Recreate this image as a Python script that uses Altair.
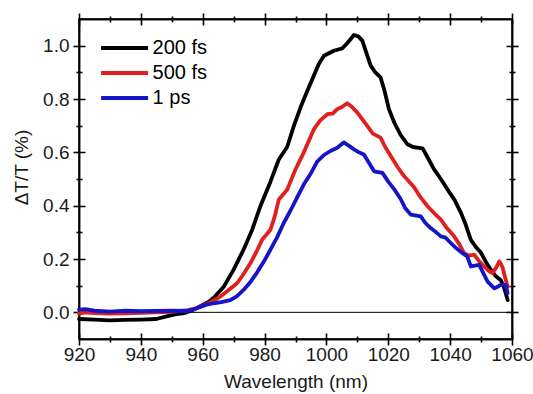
import altair as alt
import pandas as pd

# ---- data ----
wl_200 = [920, 925, 930, 935, 940, 945, 948, 951, 954, 957, 960, 962, 964, 966.8, 970, 973.2, 976, 978.7,
          981.9, 984.6, 987.3, 989.5, 991.6, 993.8, 995.9, 997.5, 999.2, 1002.4, 1005.1, 1006.8, 1008.9,
          1010.3, 1011.6, 1013, 1014.3, 1015.8, 1017.5, 1018.8, 1020.2, 1022, 1024, 1026.2, 1028, 1029.9,
          1031.1, 1033, 1034.8, 1037, 1039.2, 1041.5, 1043.5, 1045, 1046.7, 1048.3, 1049.9, 1051.5, 1053.2,
          1054.8, 1056.4, 1057.5, 1058.6]
dt_200 = [-0.025, -0.027, -0.030, -0.028, -0.027, -0.025, -0.016, -0.008, -0.003, 0.01, 0.028, 0.04, 0.06,
          0.096, 0.16, 0.235, 0.31, 0.40, 0.49, 0.573, 0.62, 0.70, 0.768, 0.83, 0.887, 0.93, 0.962, 0.981,
          0.99, 1.01, 1.04, 1.035, 1.019, 0.97, 0.925, 0.90, 0.881, 0.83, 0.762, 0.71, 0.665, 0.63, 0.62,
          0.617, 0.615, 0.575, 0.536, 0.50, 0.46, 0.42, 0.373, 0.33, 0.272, 0.245, 0.225, 0.19, 0.159,
          0.135, 0.12, 0.09, 0.046]

wl_500 = [920, 922, 925, 930, 935, 940, 945, 950, 955, 958, 961, 963, 965.7, 968, 971.1, 973, 975.4, 977.5,
          979.2, 981.9, 983.3, 984.6, 987.3, 990, 992.7, 995.9, 998, 1000.3, 1002, 1003.5, 1005, 1006.7,
          1008.3, 1010, 1013.2, 1015, 1017.5, 1019, 1020.8, 1023, 1025.1, 1028.3, 1030.5, 1032.7, 1035,
          1037, 1039, 1041.3, 1043, 1044.5, 1046, 1047.8, 1049.5, 1051, 1052.5, 1053.7, 1055, 1055.9,
          1056.5, 1057, 1057.8, 1058.6]
dt_500 = [-0.005, 0.0, -0.003, -0.005, -0.004, -0.002, 0.0, 0.002, 0.008, 0.015, 0.03, 0.04, 0.059, 0.08,
          0.109, 0.14, 0.184, 0.23, 0.272, 0.31, 0.36, 0.423, 0.46, 0.536, 0.60, 0.686, 0.72, 0.743, 0.745,
          0.762, 0.77, 0.784, 0.77, 0.749, 0.699, 0.67, 0.655, 0.62, 0.586, 0.545, 0.511, 0.47, 0.43,
          0.398, 0.37, 0.348, 0.315, 0.285, 0.255, 0.222, 0.213, 0.216, 0.19, 0.172, 0.155, 0.147, 0.17,
          0.191, 0.18, 0.166, 0.13, 0.096]

wl_1ps = [920, 922, 925, 930, 935, 940, 945, 950, 955, 958, 961, 964, 966, 968.9, 971, 973.2, 975.5, 977.6,
          980, 981.9, 984, 986.2, 988.3, 990.5, 992.7, 994.9, 997, 999.2, 1001.3, 1003.5, 1005.6, 1007.2,
          1008.9, 1010.5, 1012.1, 1013.8, 1015.4, 1018.1, 1020, 1022, 1024, 1025.5, 1027.3, 1030.5, 1032,
          1033.7, 1035.5, 1037, 1038.5, 1040.2, 1042, 1044, 1045.5, 1046.7, 1048, 1049.4, 1050.8, 1052.1,
          1054.3, 1055.5, 1056.4, 1058, 1058.6]
dt_1ps = [0.01, 0.012, 0.006, 0.003, 0.006, 0.004, 0.005, 0.006, 0.005, 0.015, 0.028, 0.035, 0.038, 0.046,
          0.06, 0.084, 0.115, 0.15, 0.195, 0.235, 0.28, 0.335, 0.38, 0.43, 0.48, 0.52, 0.565, 0.59, 0.605,
          0.617, 0.637, 0.625, 0.611, 0.60, 0.592, 0.56, 0.529, 0.523, 0.49, 0.46, 0.425, 0.39, 0.366,
          0.36, 0.335, 0.316, 0.30, 0.285, 0.28, 0.26, 0.24, 0.222, 0.21, 0.172, 0.175, 0.178, 0.145,
          0.115, 0.09, 0.097, 0.103, 0.103, 0.072]

series_names = ["200 fs", "500 fs", "1 ps"]
series_colors = ["#000000", "#e0201e", "#1414c8"]
x_major_ticks = [920, 940, 960, 980, 1000, 1020, 1040, 1060]
x_minor_ticks = [930, 950, 970, 990, 1010, 1030, 1050]
y_major_ticks = [0.0, 0.2, 0.4, 0.6, 0.8, 1.0]
y_minor_ticks = [0.1, 0.3, 0.5, 0.7, 0.9]

frames = []
for name, wl, dt in zip(series_names, [wl_200, wl_500, wl_1ps], [dt_200, dt_500, dt_1ps]):
    frames.append(pd.DataFrame({"wl": wl, "dt": dt, "series": name, "idx": range(len(wl))}))
df = pd.concat(frames, ignore_index=True)
zero_df = pd.DataFrame({"z": [0.0]})

W, H = 433, 320
FONT = "Liberation Sans"
MAJ, MIN = 6, 3
TICK_COLOR = "black"

x_scale = alt.Scale(domain=[920, 1060], nice=False, zero=False)
y_scale = alt.Scale(domain=[-0.1, 1.1], nice=False, zero=False)


def x_axis(orient, values, size, main=False):
    kw = dict(orient=orient, values=values, tickSize=size, labelFlush=False,
              ticks=True, tickColor=TICK_COLOR, tickWidth=1.6)
    if main:
        kw.update(format="d", title="Wavelength (nm)", labelPadding=0, titlePadding=8)
    else:
        kw.update(labels=False, title=None)
    if orient == "bottom":
        kw.update(grid=True, gridColor=TICK_COLOR, gridWidth=1.6,
                  gridDash=[size, H - 2 * size, size, 0])
    else:
        kw.update(grid=False)
    return alt.Axis(**kw)


def y_axis(orient, values, size, main=False):
    kw = dict(orient=orient, values=values, tickSize=size, labelFlush=False,
              ticks=True, tickColor=TICK_COLOR, tickWidth=1.6)
    if main:
        kw.update(format=".1f", title="ΔT/T (%)", labelPadding=4, titlePadding=11, titleY=148)
    else:
        kw.update(labels=False, title=None)
    if orient == "left":
        kw.update(grid=True, gridColor=TICK_COLOR, gridWidth=1.6,
                  gridDash=[size, W - 2 * size, size, 0])
    else:
        kw.update(grid=False)
    return alt.Axis(**kw)


lines = alt.Chart(df).mark_line(strokeWidth=3.8, strokeJoin="round", strokeCap="round").encode(
    x=alt.X("wl:Q", scale=x_scale, axis=x_axis("bottom", x_major_ticks, MAJ, main=True)),
    y=alt.Y("dt:Q", scale=y_scale, axis=y_axis("left", y_major_ticks, MAJ, main=True)),
    color=alt.Color(
        "series:N",
        scale=alt.Scale(domain=series_names, range=series_colors),
        legend=alt.Legend(
            title=None, orient="none", legendX=35.6, legendY=19,
            symbolType="M-3,0H3", symbolSize=245, symbolStrokeWidth=4,
            labelFont=FONT, labelFontSize=20, labelColor="black", labelOffset=18,
            rowPadding=5, padding=0,
        ),
    ),
    order="idx:Q",
)


def guide_layer(xo, xv, yo, yv, size):
    return alt.Chart(df).mark_line(opacity=0).encode(
        x=alt.X("wl:Q", scale=x_scale, axis=x_axis(xo, xv, size)),
        y=alt.Y("dt:Q", scale=y_scale, axis=y_axis(yo, yv, size)),
        detail="series:N",
    )


minor_bl = guide_layer("bottom", x_minor_ticks, "left", y_minor_ticks, MIN)
major_tr = guide_layer("top", x_major_ticks, "right", y_major_ticks, MAJ)
minor_tr = guide_layer("top", x_minor_ticks, "right", y_minor_ticks, MIN)

zero_rule = alt.Chart(zero_df).mark_rule(color="black", strokeWidth=1).encode(
    y=alt.Y("z:Q", scale=y_scale, axis=None)
)

chart = (
    alt.layer(zero_rule, lines, minor_bl, major_tr, minor_tr)
    .resolve_scale(x="shared", y="shared")
    .resolve_axis(x="independent", y="independent")
    .properties(
        width=W, height=H, autosize="none",
        padding={"left": 79, "top": 19, "right": 21, "bottom": 55},
        background="white",
    )
    .configure_view(stroke="black", strokeWidth=1.5)
    .configure_axis(
        domainColor="black", domainWidth=1.5,
        labelFont=FONT, labelFontSize=19, labelColor="#1a1a1a",
        titleFont=FONT, titleFontSize=19, titleFontWeight="normal", titleColor="#1a1a1a",
    )
)

chart.save("out.html", embed_options={"renderer": "svg", "actions": False})
